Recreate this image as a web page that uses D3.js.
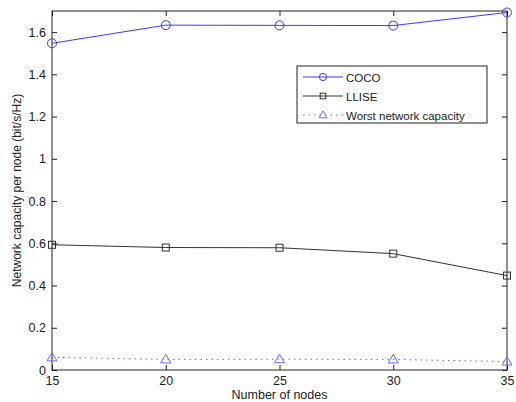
<!DOCTYPE html>
<html>
<head>
<meta charset="utf-8">
<script src="https://cdn.jsdelivr.net/npm/d3@7"></script>
<style>
  body { margin: 0; background: #fff; }
  svg { display: block; font-family: "Liberation Sans", Arial, sans-serif; }
</style>
</head>
<body>
<div id="chart"></div>
<script>
const nodes = [15, 20, 25, 30, 35];
const coco = [1.547, 1.633, 1.632, 1.631, 1.693];
const llise = [0.593, 0.580, 0.579, 0.551, 0.447];
const worst = [0.060, 0.050, 0.051, 0.050, 0.040];
const yTicks = [0, 0.2, 0.4, 0.6, 0.8, 1, 1.2, 1.4, 1.6];
const legendLabels = ["COCO", "LLISE", "Worst network capacity"];

const width = 516, height = 402;
const margin = { top: 11, right: 9, bottom: 32, left: 52 };

const svg = d3.select("#chart").append("svg")
  .attr("width", width)
  .attr("height", height);

const x = d3.scaleLinear().domain([15, 35]).range([margin.left, width - margin.right]);
const y = d3.scaleLinear().domain([0, 1.7]).range([height - margin.bottom, margin.top]);

const tickLen = 5;

// axes with inward ticks
svg.append("g")
  .attr("transform", `translate(0,${height - margin.bottom})`)
  .call(d3.axisBottom(x).tickValues(nodes).tickSizeInner(-tickLen).tickSizeOuter(0).tickPadding(6))
  .call(g => g.selectAll("text").attr("font-size", 12.5).attr("fill", "#222"));

svg.append("g")
  .attr("transform", `translate(${margin.left},0)`)
  .call(d3.axisLeft(y).tickValues(yTicks).tickFormat(d3.format("")).tickSizeInner(-tickLen).tickSizeOuter(0).tickPadding(6))
  .call(g => g.selectAll("text").attr("font-size", 12.5).attr("fill", "#222"));

svg.append("g")
  .attr("transform", `translate(0,${margin.top})`)
  .call(d3.axisTop(x).tickValues(nodes).tickSizeInner(-tickLen).tickSizeOuter(0).tickFormat(""));

svg.append("g")
  .attr("transform", `translate(${width - margin.right},0)`)
  .call(d3.axisRight(y).tickValues(yTicks).tickSizeInner(-tickLen).tickSizeOuter(0).tickFormat(""));

svg.selectAll(".domain").remove();
svg.selectAll(".tick line").attr("stroke", "#222");

svg.append("rect")
  .attr("x", margin.left)
  .attr("y", margin.top)
  .attr("width", width - margin.left - margin.right)
  .attr("height", height - margin.top - margin.bottom)
  .attr("fill", "none")
  .attr("stroke", "#222")
  .attr("stroke-width", 1);

// axis labels
svg.append("text")
  .attr("x", (margin.left + width - margin.right) / 2)
  .attr("y", 399)
  .attr("text-anchor", "middle")
  .attr("font-size", 12.5)
  .attr("fill", "#222")
  .text("Number of nodes");

svg.append("text")
  .attr("transform", `translate(21,${(margin.top + height - margin.bottom) / 2}) rotate(-90)`)
  .attr("text-anchor", "middle")
  .attr("font-size", 12)
  .attr("fill", "#222")
  .text("Network capacity per node (bit/s/Hz)");

const line = d3.line().x((d, i) => x(nodes[i])).y(d => y(d));

const series = [
  { data: coco, color: "#3a3aff", dash: null, marker: "circle" },
  { data: llise, color: "#333", dash: null, marker: "square" },
  { data: worst, color: "#6a6aff", dash: "1.5,4", marker: "triangle" }
];

function drawMarker(g, type, cx, cy, color, s) {
  if (type === "circle") {
    g.append("circle").attr("cx", cx).attr("cy", cy).attr("r", 4.5 * s)
      .attr("fill", "none").attr("stroke", color);
  } else if (type === "square") {
    g.append("rect").attr("x", cx - 3.5 * s).attr("y", cy - 3.5 * s).attr("width", 7 * s).attr("height", 7 * s)
      .attr("fill", "none").attr("stroke", color);
  } else {
    g.append("path").attr("d", `M${cx},${cy - 5 * s}L${cx + 5 * s},${cy + 3.5 * s}L${cx - 5 * s},${cy + 3.5 * s}Z`)
      .attr("fill", "none").attr("stroke", color);
  }
}

series.forEach(s => {
  svg.append("path")
    .datum(s.data)
    .attr("d", line)
    .attr("fill", "none")
    .attr("stroke", s.color)
    .attr("stroke-width", 1)
    .attr("stroke-dasharray", s.dash);
  const g = svg.append("g");
  s.data.forEach((v, i) => drawMarker(g, s.marker, x(nodes[i]), y(v), s.color, 1));
});

// legend
const lx = 297, ly = 66, lw = 190, lh = 57;
const legend = svg.append("g");
legend.append("rect")
  .attr("x", lx).attr("y", ly).attr("width", lw).attr("height", lh)
  .attr("fill", "#fff").attr("stroke", "#222");

legendLabels.forEach((label, i) => {
  const s = series[i];
  const cy = ly + 11 + i * 19;
  legend.append("line")
    .attr("x1", lx + 6).attr("x2", lx + 46)
    .attr("y1", cy).attr("y2", cy)
    .attr("stroke", s.color)
    .attr("stroke-dasharray", s.dash);
  drawMarker(legend, s.marker, lx + 26, cy, s.color, 0.8);
  legend.append("text")
    .attr("x", lx + 49)
    .attr("y", cy + 4.5)
    .attr("font-size", 11.5)
    .attr("fill", "#222")
    .text(label);
});
</script>
</body>
</html>
